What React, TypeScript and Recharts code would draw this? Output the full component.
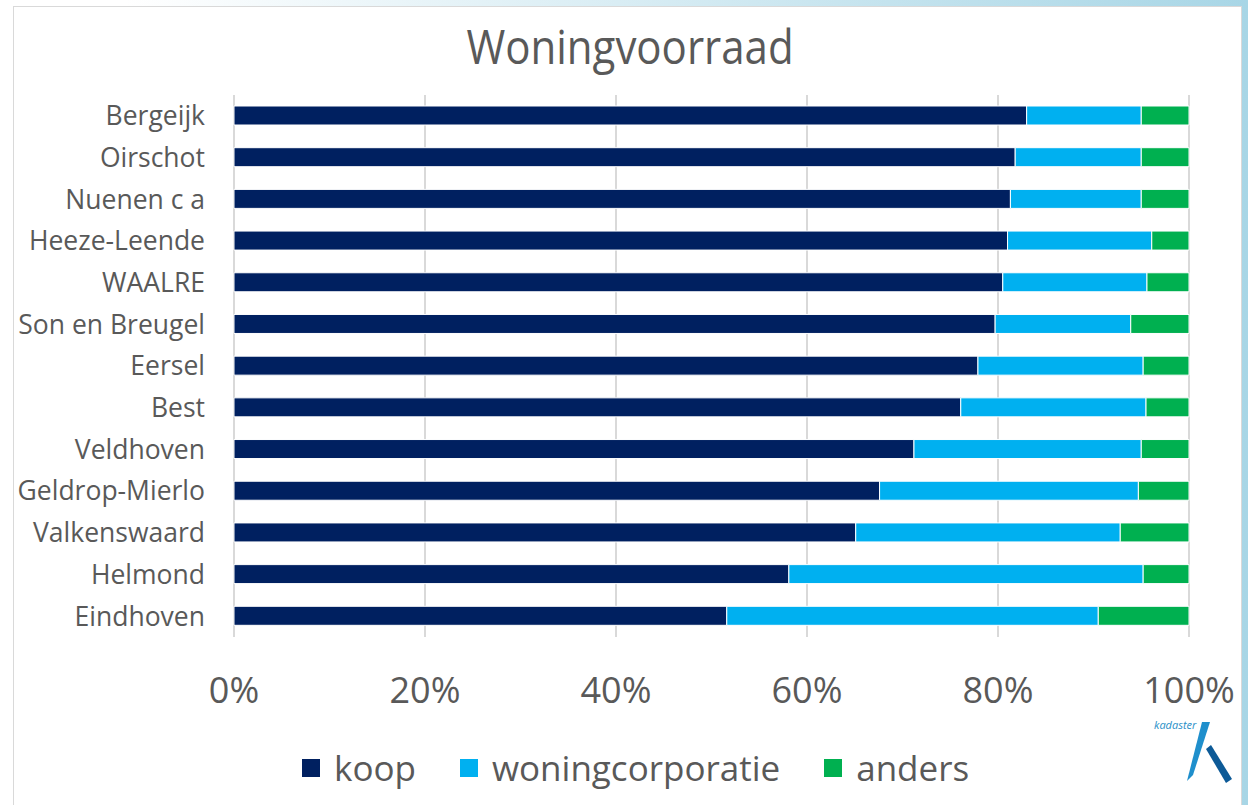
import React from 'react';
import { BarChart, Bar, XAxis, YAxis, CartesianGrid, Legend } from 'recharts';

const gemeenten = [
  'Bergeijk', 'Oirschot', 'Nuenen c a', 'Heeze-Leende', 'WAALRE', 'Son en Breugel', 'Eersel',
  'Best', 'Veldhoven', 'Geldrop-Mierlo', 'Valkenswaard', 'Helmond', 'Eindhoven',
];
const koop = [83.0, 81.8, 81.3, 81.0, 80.5, 79.7, 77.9, 76.1, 71.2, 67.6, 65.1, 58.1, 51.6];
const woningcorporatie = [12.0, 13.2, 13.7, 15.1, 15.1, 14.2, 17.3, 19.4, 23.8, 27.1, 27.7, 37.1, 38.9];
const anders = [5.0, 5.0, 5.0, 3.9, 4.4, 6.1, 4.8, 4.5, 5.0, 5.3, 7.2, 4.8, 9.5];
const xTicks = [0, 20, 40, 60, 80, 100];

const seriesInfo = [
  { key: 'koop', color: '#002060' },
  { key: 'woningcorporatie', color: '#00B0F0' },
  { key: 'anders', color: '#00B050' },
];

const data = gemeenten.map((name, i) => ({
  name,
  koop: koop[i],
  woningcorporatie: woningcorporatie[i],
  anders: anders[i],
}));

const FONT = '"Open Sans", sans-serif';

const LegendContent = () => (
  <div style={{ display: 'flex', alignItems: 'center', height: 50, paddingLeft: 302 }}>
    {seriesInfo.map((s) => (
      <div key={s.key} style={{ display: 'flex', alignItems: 'center', marginRight: 44 }}>
        <span style={{ width: 18, height: 18, background: s.color, display: 'inline-block', marginRight: 14 }} />
        <span style={{ fontSize: 35, color: '#595959', lineHeight: '50px' }}>{s.key}</span>
      </div>
    ))}
  </div>
);

export default function App() {
  return (
    <div
      style={{
        position: 'absolute', top: 0, left: 0, width: 1248, height: 805, overflow: 'hidden',
        background: 'linear-gradient(to right, #ffffff 10%, #a8d6e6)', fontFamily: FONT,
      }}
    >
      <div
        style={{
          position: 'absolute', left: 13, top: 6, width: 1229, height: 820,
          background: '#fff', border: '1px solid #d9d9d9', boxSizing: 'border-box',
        }}
      />
      <div
        style={{
          position: 'absolute', top: 17, left: 6, width: 1248, textAlign: 'center',
          fontSize: 42, color: '#595959', transform: 'scaleY(1.12)',
        }}
      >
        Woningvoorraad
      </div>
      <div style={{ position: 'absolute', top: 0, left: 0 }}>
        <BarChart
          width={1248}
          height={805}
          data={data}
          layout="vertical"
          barSize={19}
          margin={{ top: 95, right: 59, bottom: 12, left: 0 }}
        >
          <CartesianGrid horizontal={false} stroke="#d9d9d9" strokeWidth={2} />
          <XAxis
            type="number"
            domain={[0, 100]}
            ticks={xTicks}
            tickFormatter={(v) => `${v}%`}
            axisLine={false}
            tickLine={false}
            tickSize={0}
            tickMargin={40}
            height={106}
            interval={0}
            tick={{ fontSize: 36, fill: '#595959' }}
          />
          <YAxis
            type="category"
            dataKey="name"
            width={234}
            axisLine={false}
            tickLine={false}
            tickSize={0}
            tickMargin={29}
            interval={0}
            tick={{ fontSize: 26.5, fill: '#595959' }}
          />
          <Legend
            content={<LegendContent />}
            verticalAlign="bottom"
            wrapperStyle={{ position: 'absolute', left: 0, top: 743, width: 1248, height: 50 }}
          />
          {seriesInfo.map((s) => (
            <Bar
              key={s.key}
              dataKey={s.key}
              stackId="a"
              fill={s.color}
              stroke="#ffffff"
              strokeWidth={1}
              isAnimationActive={false}
            />
          ))}
        </BarChart>
      </div>
      <svg style={{ position: 'absolute', left: 1150, top: 715 }} width={92} height={75}>
        <text x={4} y={14} fontSize={11} fontStyle="italic" fill="#2a8fc7" fontFamily={FONT}>kadaster</text>
        <polygon points="52,7 60,7 43,60 37,66" fill="#1f8fcc" />
        <polygon points="56,34 61,30 82,64 76,68" fill="#0d5a97" />
      </svg>
    </div>
  );
}
